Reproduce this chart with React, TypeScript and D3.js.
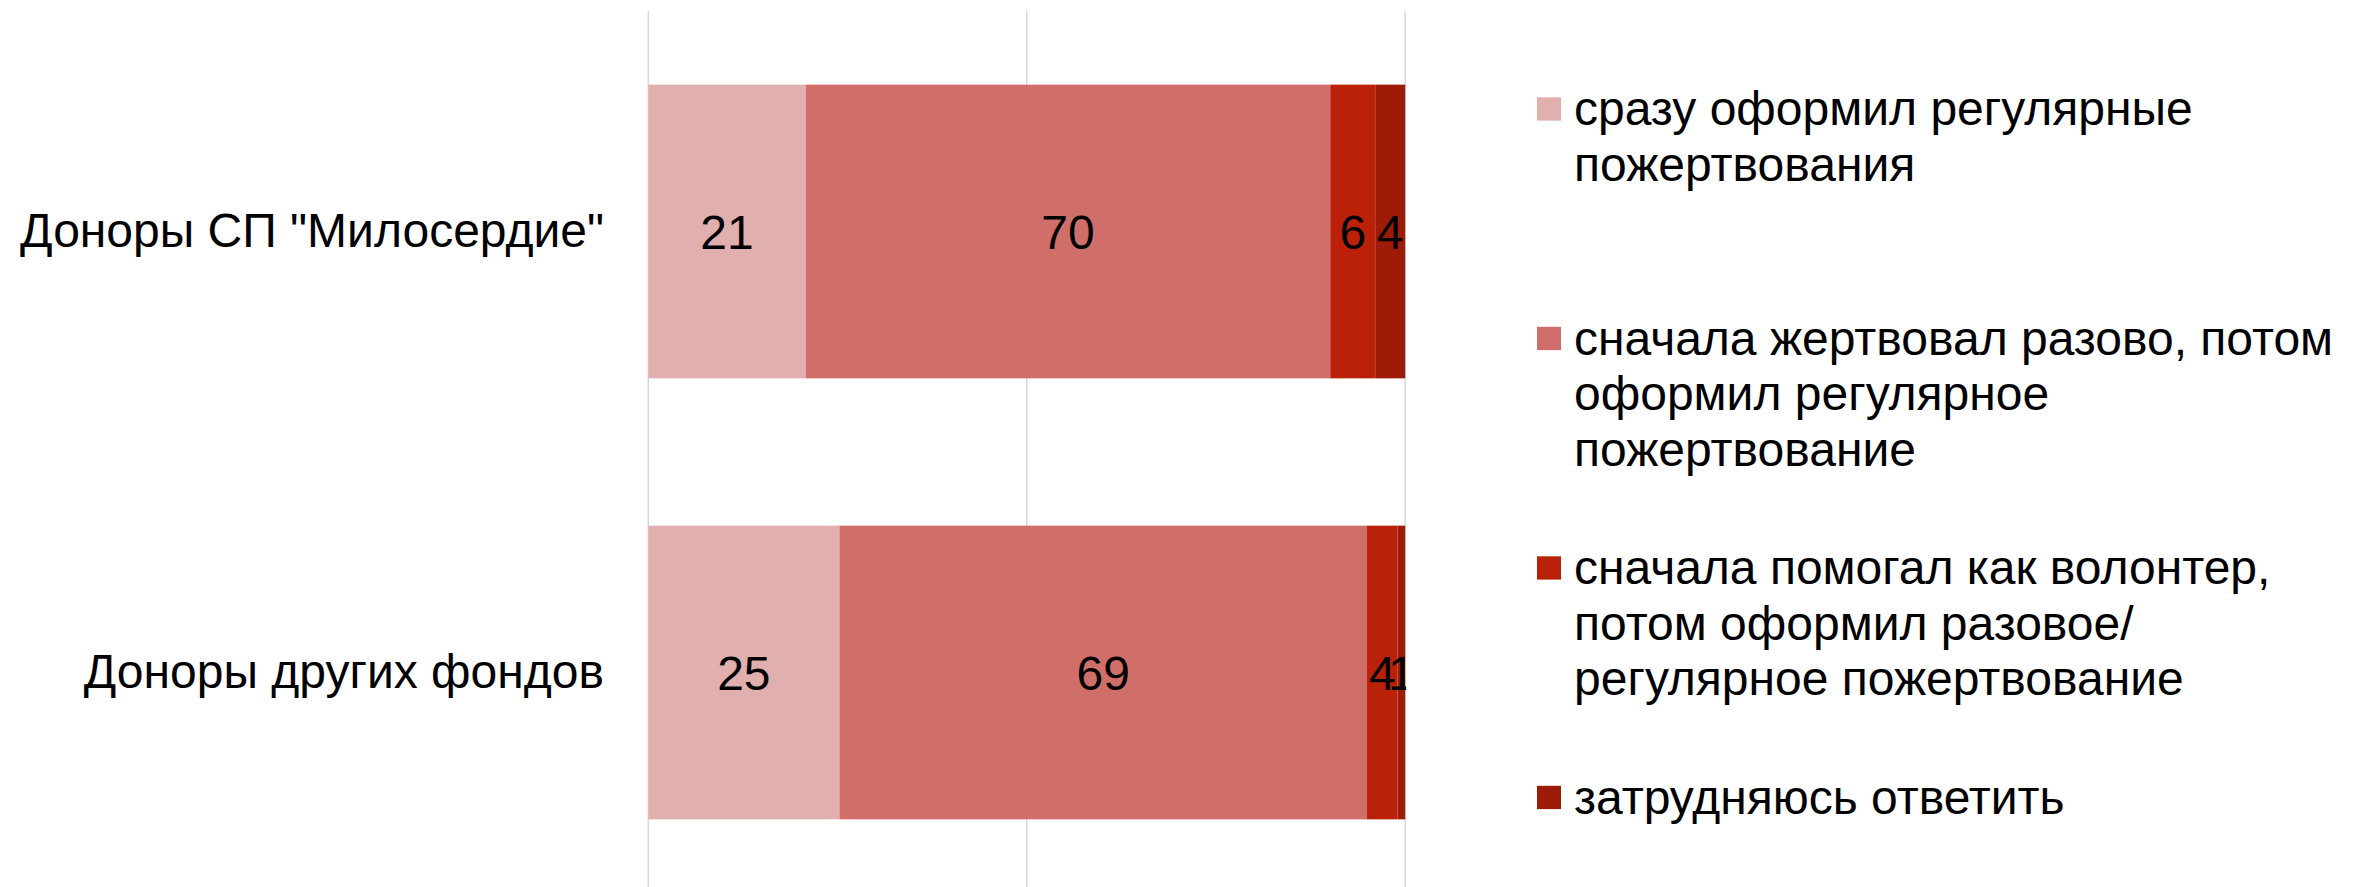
import React, { useRef, useEffect } from 'react';
import * as d3 from 'd3';

// groups (rows of the chart)
const groups = ['Доноры СП "Милосердие"', 'Доноры других фондов'];

// series values, % of respondents per group
const immediateRegular = [21, 25];
const oneOffThenRegular = [70, 69];
const volunteerFirst = [6, 4];
const hardToSay = [4, 1];

const seriesKeys = ['immediate', 'oneOff', 'volunteer', 'unsure'];
const seriesColors = ['#e0afae', '#d06e6a', '#bb2108', '#9d1b07'];
const legendLines = [
  ['сразу оформил регулярные', 'пожертвования'],
  ['сначала жертвовал разово, потом', 'оформил регулярное', 'пожертвование'],
  ['сначала помогал как волонтер,', 'потом оформил разовое/', 'регулярное пожертвование'],
  ['затрудняюсь ответить'],
];
const gridTicks = [0, 0.5, 1];

const FONT = '"Liberation Sans", Arial, sans-serif';

const App = () => {
  const svgRef = useRef<SVGSVGElement>(null);

  useEffect(() => {
    document.body.style.margin = '0';
    const width = 2364;
    const height = 887;
    const fontSize = 48;

    const svg = d3.select(svgRef.current)
      .attr('width', width)
      .attr('height', height);
    svg.selectAll('*').remove();

    // table built from the arrays above
    const rows = groups.map((name, i) => ({
      name,
      immediate: immediateRegular[i],
      oneOff: oneOffThenRegular[i],
      volunteer: volunteerFirst[i],
      unsure: hardToSay[i],
    }));

    // 100% stacked bars
    const stacked = d3.stack<any>()
      .keys(seriesKeys)
      .offset(d3.stackOffsetExpand)(rows);

    const xScale = d3.scaleLinear().domain([0, 1]).range([648.3, 1405.2]);
    const yScale = d3.scaleBand()
      .domain(groups)
      .range([11, 893])
      .paddingInner(0.334)
      .paddingOuter(0.167);

    // labels that spill past the plot area get cut off, as in the original
    svg.append('defs').append('clipPath')
      .attr('id', 'plot-clip')
      .append('rect')
      .attr('x', xScale(0))
      .attr('y', 0)
      .attr('width', xScale(1) - xScale(0) + 1)
      .attr('height', height);

    // vertical gridlines
    svg.append('g')
      .selectAll('line')
      .data(gridTicks)
      .enter().append('line')
      .attr('x1', d => xScale(d))
      .attr('x2', d => xScale(d))
      .attr('y1', 11)
      .attr('y2', height)
      .attr('stroke', '#d9d9d9')
      .attr('stroke-width', 1.5);

    // segments
    const layer = svg.append('g')
      .selectAll('g')
      .data(stacked)
      .enter().append('g')
      .attr('fill', (d, i) => seriesColors[i]);

    layer.selectAll('rect')
      .data(d => d)
      .enter().append('rect')
      .attr('x', d => xScale(d[0]))
      .attr('y', d => yScale(d.data.name)!)
      .attr('width', d => xScale(d[1]) - xScale(d[0]))
      .attr('height', yScale.bandwidth());

    // value labels, centred in each segment
    const labels = svg.append('g').attr('clip-path', 'url(#plot-clip)');
    stacked.forEach(s => {
      s.forEach(d => {
        labels.append('text')
          .attr('x', (xScale(d[0]) + xScale(d[1])) / 2)
          .attr('y', yScale(d.data.name)! + yScale.bandwidth() / 2 + 17.5)
          .attr('text-anchor', 'middle')
          .style('font-family', FONT)
          .style('font-size', `${fontSize}px`)
          .style('fill', '#000')
          .text(d.data[s.key]);
      });
    });

    // category labels
    groups.forEach(name => {
      svg.append('text')
        .attr('x', 604)
        .attr('y', yScale(name)! + yScale.bandwidth() / 2 + 15.5)
        .attr('text-anchor', 'end')
        .style('font-family', FONT)
        .style('font-size', `${fontSize}px`)
        .style('fill', '#000')
        .text(name);
    });

    // legend
    const legendTop = 125;
    const legendStep = 229.5;
    const lineHeight = 55.5;
    legendLines.forEach((lines, i) => {
      const base = legendTop + i * legendStep;
      svg.append('rect')
        .attr('x', 1537)
        .attr('y', base - 27.7)
        .attr('width', 24)
        .attr('height', 23.3)
        .attr('fill', seriesColors[i]);
      lines.forEach((line, j) => {
        svg.append('text')
          .attr('x', 1574)
          .attr('y', base + j * lineHeight)
          .style('font-family', FONT)
          .style('font-size', `${fontSize}px`)
          .style('fill', '#000')
          .text(line);
      });
    });
  }, []);

  return (
    <div>
      <svg ref={svgRef} style={{ display: 'block' }}></svg>
    </div>
  );
};

export default App;
